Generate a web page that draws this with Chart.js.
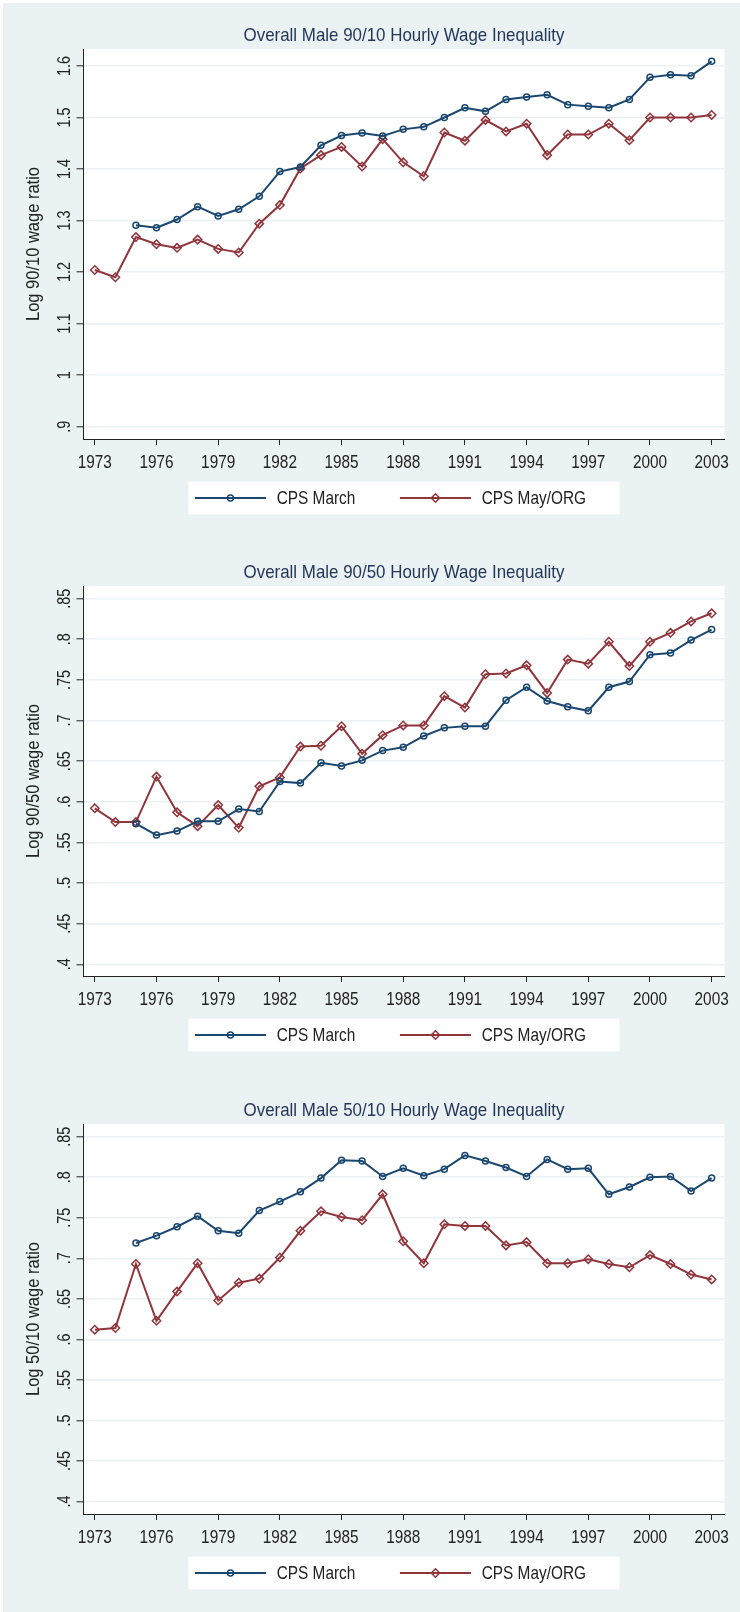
<!DOCTYPE html>
<html>
<head>
<meta charset="utf-8">
<script src="https://cdn.jsdelivr.net/npm/chart.js@4.4.1/dist/chart.umd.min.js"></script>
<style>
  html, body { margin: 0; padding: 0; background: #fff; }
  #page { position: relative; width: 740px; height: 1612px; overflow: hidden; }
  #bg { position: absolute; left: 3px; top: 3px; right: 0; bottom: 0; background: #eaf2f3; }
  canvas { position: absolute; left: 0; }
</style>
</head>
<body>
<div id="page">
  <div id="bg"></div>
  <canvas id="c1" width="740" height="537" style="top:0px"></canvas>
  <canvas id="c2" width="740" height="538" style="top:537px"></canvas>
  <canvas id="c3" width="740" height="537" style="top:1075px"></canvas>
</div>
<script>
// survey years
var years = [1973,1974,1975,1976,1977,1978,1979,1980,1981,1982,1983,1984,1985,1986,1987,
             1988,1989,1990,1991,1992,1993,1994,1995,1996,1997,1998,1999,2000,2001,2002,2003];

// 90/10
var march9010 = [null,null,1.291,1.286,1.302,1.327,1.309,1.322,1.347,1.395,1.404,1.446,1.465,1.470,1.464,
                 1.477,1.482,1.500,1.519,1.512,1.535,1.540,1.544,1.525,1.522,1.519,1.535,1.578,1.583,1.581,1.609];
var org9010   = [1.204,1.190,1.268,1.254,1.247,1.263,1.245,1.238,1.294,1.330,1.401,1.427,1.443,1.405,1.458,
                 1.413,1.386,1.471,1.455,1.495,1.473,1.488,1.427,1.467,1.467,1.488,1.456,1.500,1.500,1.500,1.505];

// 90/50
var march9050 = [null,null,.573,.559,.564,.576,.576,.591,.588,.625,.623,.648,.644,.651,.663,
                 .667,.681,.691,.693,.693,.725,.741,.724,.717,.712,.741,.748,.781,.783,.799,.812];
var org9050   = [.592,.575,.575,.631,.587,.570,.596,.568,.619,.630,.668,.669,.693,.659,.682,
                 .694,.694,.730,.716,.757,.758,.768,.734,.775,.770,.797,.767,.797,.808,.822,.832];

// 50/10
var march5010 = [null,null,.719,.728,.739,.752,.734,.731,.759,.770,.782,.799,.821,.820,.801,
                 .811,.802,.810,.827,.820,.812,.801,.822,.810,.811,.779,.788,.800,.801,.783,.799];
var org5010   = [.612,.614,.693,.623,.659,.694,.648,.670,.675,.701,.734,.758,.751,.747,.779,
                 .721,.694,.742,.740,.740,.716,.720,.694,.694,.699,.693,.689,.704,.693,.680,.674];

// axis ticks
var xTicks = [1973,1976,1979,1982,1985,1988,1991,1994,1997,2000,2003];
var yTicks1 = [0.9,1.0,1.1,1.2,1.3,1.4,1.5,1.6];
var yLabels1 = ['.9','1','1.1','1.2','1.3','1.4','1.5','1.6'];
var yTicks2 = [0.40,0.45,0.50,0.55,0.60,0.65,0.70,0.75,0.80,0.85];
var yLabels2 = ['.4','.45','.5','.55','.6','.65','.7','.75','.8','.85'];

var FONT = "'Liberation Sans', Arial, sans-serif";
var NAVY = '#1a476f';
var MAROON = '#90353b';
var INK = '#222222';

function pts(vals) {
    var out = [];
    for (var i = 0; i < years.length; i++) {
        if (vals[i] !== null) out.push({x: years[i], y: vals[i]});
    }
    return out;
}

// stata text is narrow, so squeeze liberation sans along the text direction
function narrowText(ctx, text, x, y, size, sx, align, rotated, color) {
    ctx.save();
    ctx.translate(x, y);
    if (rotated) ctx.rotate(-Math.PI / 2);
    ctx.scale(sx, 1);
    ctx.font = size + 'px ' + FONT;
    ctx.fillStyle = color || INK;
    ctx.textAlign = align;
    ctx.textBaseline = 'alphabetic';
    ctx.fillText(text, 0, 0);
    ctx.restore();
}

// white plot region
var framePlugin = {
    id: 'frame',
    beforeDraw: function(chart) {
        var ca = chart.chartArea, ctx = chart.ctx;
        ctx.save();
        ctx.fillStyle = '#ffffff';
        ctx.fillRect(ca.left, ca.top, ca.right - ca.left, ca.bottom - ca.top);
        ctx.restore();
    }
};

// title, axis title and all tick labels
var textPlugin = {
    id: 'texts',
    afterDraw: function(chart, args, opts) {
        var ca = chart.chartArea, ctx = chart.ctx;
        var xs = chart.scales.x, ys = chart.scales.y;
        narrowText(ctx, opts.title, (ca.left + ca.right) / 2, 40.5, 19, 0.89, 'center', false, '#263659');
        narrowText(ctx, opts.yTitle, 39, (ca.top + ca.bottom) / 2, 19, 0.868, 'center', true);
        xs.ticks.forEach(function(t) {
            narrowText(ctx, String(t.value), xs.getPixelForValue(t.value), ca.bottom + 29.3, 18.5, 0.83, 'center', false);
        });
        ys.ticks.forEach(function(t, i) {
            narrowText(ctx, opts.yLabels[i], 69.5, ys.getPixelForValue(t.value), 19, 0.76, 'center', true);
        });
    }
};

// legend box under the plot, line with marker in the middle
var legendPlugin = {
    id: 'boxLegend',
    afterDraw: function(chart) {
        var ca = chart.chartArea, ctx = chart.ctx;
        var cx = (ca.left + ca.right) / 2;
        var cy = ca.bottom + 59;
        ctx.save();
        ctx.fillStyle = '#ffffff';
        ctx.fillRect(cx - 215.5, ca.bottom + 42.7, 431, 32.6);
        var offs = [-209, -4];
        chart.data.datasets.forEach(function(ds, i) {
            var x0 = cx + offs[i];
            ctx.strokeStyle = ds.borderColor;
            ctx.lineWidth = 2;
            ctx.beginPath();
            ctx.moveTo(x0, cy);
            ctx.lineTo(x0 + 71, cy);
            ctx.stroke();
            ctx.fillStyle = 'rgba(0,0,0,0)';
            ctx.lineWidth = ds.pointBorderWidth;
            Chart.helpers.drawPoint(ctx, {
                pointStyle: ds.pointStyle,
                radius: ds.pointRadius,
                borderWidth: ds.pointBorderWidth,
                rotation: 0
            }, x0 + 35.5, cy);
            narrowText(ctx, ds.label, x0 + 81.7, ca.bottom + 65.3, 19, 0.81, 'left', false);
        });
        ctx.restore();
    }
};

function makePanel(id, title, yTitle, march, org, yMin, yMax, yTicks, yLabels) {
    var canvas = document.getElementById(id);
    return new Chart(canvas, {
        type: 'line',
        data: {
            datasets: [{
                label: 'CPS March',
                data: pts(march),
                borderColor: NAVY,
                borderWidth: 2,
                pointStyle: 'circle',
                pointRadius: 3,
                pointBorderWidth: 1.5,
                pointBorderColor: NAVY,
                pointBackgroundColor: 'rgba(0,0,0,0)',
                tension: 0
            }, {
                label: 'CPS May/ORG',
                data: pts(org),
                borderColor: MAROON,
                borderWidth: 2,
                pointStyle: 'rectRot',
                pointRadius: 4.2,
                pointBorderWidth: 1.5,
                pointBorderColor: MAROON,
                pointBackgroundColor: 'rgba(0,0,0,0)',
                tension: 0
            }]
        },
        options: {
            responsive: false,
            animation: false,
            devicePixelRatio: 1,
            layout: { padding: { top: 49, right: 15.6, bottom: 0, left: 0 } },
            plugins: {
                legend: { display: false },
                tooltip: { enabled: false },
                texts: { title: title, yTitle: yTitle, yLabels: yLabels }
            },
            scales: {
                x: {
                    type: 'linear',
                    min: 1972.45,
                    max: 2003.62,
                    afterBuildTicks: function(s) { s.ticks = xTicks.map(function(v) { return {value: v}; }); },
                    afterFit: function(s) { s.height = canvas.height - 439; },
                    grid: { drawOnChartArea: false, drawTicks: true, tickLength: 6, tickColor: INK, tickWidth: 1 },
                    border: { display: true, color: INK, width: 1 },
                    ticks: { display: false }
                },
                y: {
                    min: yMin,
                    max: yMax,
                    afterBuildTicks: function(s) { s.ticks = yTicks.map(function(v) { return {value: v}; }); },
                    afterFit: function(s) { s.width = 83.5; },
                    grid: { color: '#eaf2f3', lineWidth: 1.6, drawTicks: true, tickLength: 7, tickColor: INK, tickWidth: 1 },
                    border: { display: true, color: INK, width: 1 },
                    ticks: { display: false }
                }
            }
        },
        plugins: [framePlugin, textPlugin, legendPlugin]
    });
}

makePanel('c1', 'Overall Male 90/10 Hourly Wage Inequality', 'Log 90/10 wage ratio',
          march9010, org9010, 0.876, 1.633, yTicks1, yLabels1);
makePanel('c2', 'Overall Male 90/50 Hourly Wage Inequality', 'Log 90/50 wage ratio',
          march9050, org9050, 0.3856, 0.8656, yTicks2, yLabels2);
makePanel('c3', 'Overall Male 50/10 Hourly Wage Inequality', 'Log 50/10 wage ratio',
          march5010, org5010, 0.3847, 0.8657, yTicks2, yLabels2);
</script>
</body>
</html>
